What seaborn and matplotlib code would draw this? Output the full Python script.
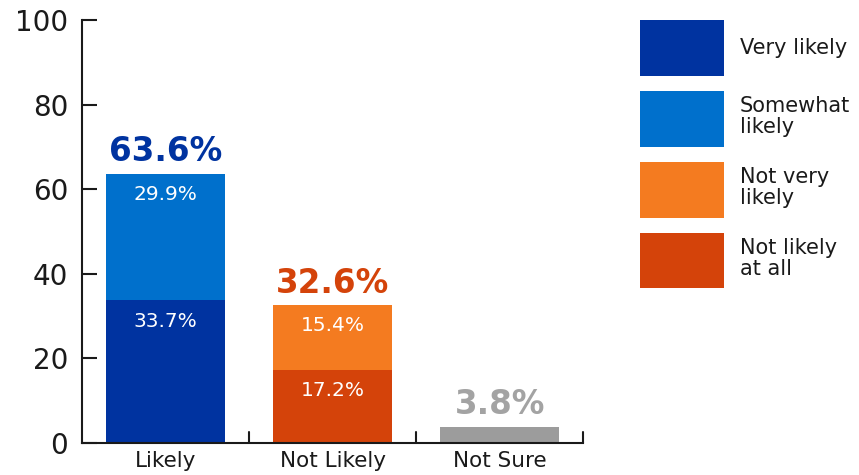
import matplotlib
matplotlib.use("Agg")
import matplotlib.pyplot as plt
from matplotlib.patches import Patch
import seaborn as sns
import pandas as pd

# Survey results
categories = ["Likely", "Not Likely", "Not Sure"]
lower_values = [33.7, 17.2, 3.8]    # Very likely / Not likely at all / Not sure
upper_values = [29.9, 15.4, 0.0]    # Somewhat likely / Not very likely
totals = [63.6, 32.6, 3.8]
legend_labels = ["Very likely", "Somewhat\nlikely", "Not very\nlikely", "Not likely\nat all"]

c_very = "#0033A0"
c_some = "#0070CC"
c_notvery = "#F47B20"
c_notall = "#D4430A"
c_grey = "#9C9C9C"
ink = "#1a1a1a"

sns.set_style("white")
plt.rcParams["font.family"] = ["DejaVu Sans"]

fig = plt.figure(figsize=(8.59, 4.75), dpi=100)
ax = fig.add_axes([0.0955, 0.0674, 0.5835, 0.8906])

df = pd.DataFrame({"cat": categories, "total": totals, "lower": lower_values})

# Full-height bars carry the upper segment colour; lower segments drawn over them
sns.barplot(data=df, x="cat", y="total", hue="cat", ax=ax, width=0.71,
            palette=[c_some, c_notvery, c_grey], legend=False, saturation=1, linewidth=0)
sns.barplot(data=df, x="cat", y="lower", hue="cat", ax=ax, width=0.71,
            palette=[c_very, c_notall, c_grey], legend=False, saturation=1, linewidth=0)

ax.set_ylim(0, 100)
ax.set_xlim(-0.5, 2.5)
ax.set_yticks([0, 20, 40, 60, 80, 100])
ax.set_xticks([0, 1, 2])
ax.set_xticklabels(categories, fontsize=15.5, color=ink)
ax.set_xlabel("")
ax.set_ylabel("")
ax.tick_params(axis="y", labelsize=20, direction="in", length=11, width=1.5,
               colors=ink, pad=10, left=True)
ax.tick_params(axis="x", length=0, pad=6)
for xb in [0.5, 1.5, 2.5]:
    ax.plot([xb, xb], [0, 2.6], color=ink, lw=1.5, clip_on=False)

sns.despine(ax=ax, top=True, right=True)
for s in ["left", "bottom"]:
    ax.spines[s].set_linewidth(1.5)
    ax.spines[s].set_color(ink)

# Segment labels near the top of each segment
seg_labels = [(0, lower_values[0], lower_values[0]), (0, totals[0], upper_values[0]),
              (1, lower_values[1], lower_values[1]), (1, totals[1], upper_values[1])]
for x, top, val in seg_labels:
    ax.annotate(f"{val:.1f}%", (x, top), xytext=(0, -8), textcoords="offset points",
                ha="center", va="top", fontsize=14.5, color="white")

# Totals above the bars
total_colors = [c_very, c_notall, "#A3A3A3"]
for x, (t, col) in enumerate(zip(totals, total_colors)):
    ax.annotate(f"{t:.1f}%", (x, t), xytext=(0, 4), textcoords="offset points",
                ha="center", va="bottom", fontsize=23.5, fontweight="bold", color=col)

handles = [Patch(facecolor=c, edgecolor="none") for c in [c_very, c_some, c_notvery, c_notall]]
leg = fig.legend(handles, legend_labels, loc="upper left", bbox_to_anchor=(0.745, 0.958),
                 frameon=False, fontsize=15, handlelength=4.03, handleheight=3.75,
                 handletextpad=0.77, labelspacing=0.72, borderaxespad=0, borderpad=0,
                 labelcolor=ink)
for t in leg.get_texts():
    t.set_linespacing(1.05)

fig.savefig("out.png", dpi=100)
